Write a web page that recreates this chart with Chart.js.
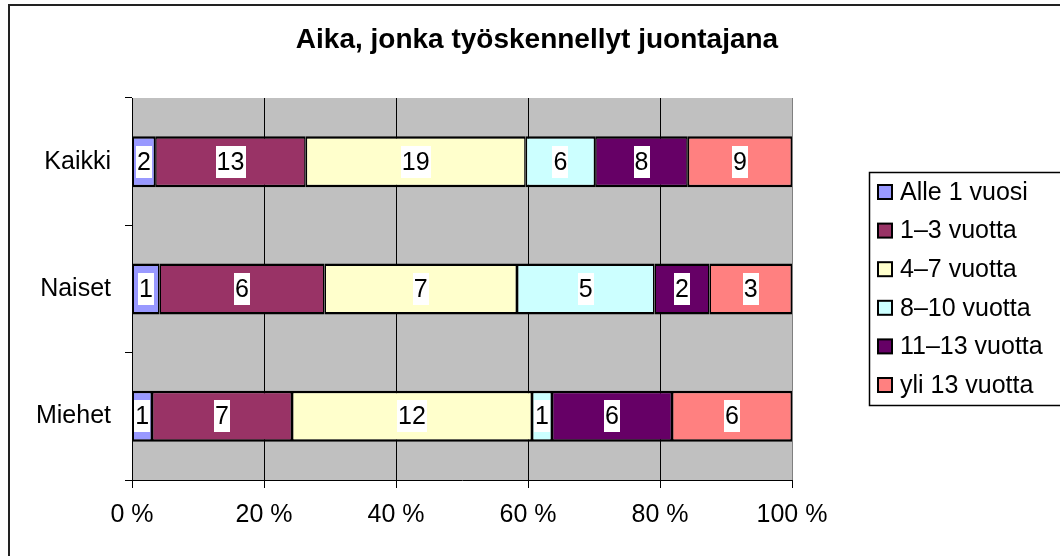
<!DOCTYPE html>
<html>
<head>
<meta charset="utf-8">
<script src="https://cdn.jsdelivr.net/npm/chart.js@4/dist/chart.umd.min.js"></script>
<style>
  html, body { margin: 0; padding: 0; background: #fff; }
  #wrap { width: 1060px; height: 556px; }
</style>
</head>
<body>
<div id="wrap"><canvas id="mycanvas" width="1060" height="556"></canvas></div>
<script>
// data (counts, shown as 100 % stacked)
var categories = ['Kaikki', 'Naiset', 'Miehet'];
var seriesNames = ['Alle 1 vuosi', '1–3 vuotta', '4–7 vuotta', '8–10 vuotta', '11–13 vuotta', 'yli 13 vuotta'];
var alle1 = [2, 1, 1];
var v1to3 = [13, 6, 7];
var v4to7 = [19, 7, 12];
var v8to10 = [6, 5, 1];
var v11to13 = [8, 2, 6];
var yli13 = [9, 3, 6];
var xTickLabels = ['0 %', '20 %', '40 %', '60 %', '80 %', '100 %'];

var colors = ['#9999FF', '#993366', '#FFFFCC', '#CCFFFF', '#660066', '#FF8080'];
var FONT = '"Liberation Sans", Arial, sans-serif';

var counts = [alle1, v1to3, v4to7, v8to10, v11to13, yli13];
var totals = categories.map(function(c, j) {
    var s = 0;
    for (var i = 0; i < counts.length; i++) s += counts[i][j];
    return s;
});

var datasets = counts.map(function(arr, i) {
    return {
        label: seriesNames[i],
        counts: arr,
        data: arr.map(function(v, j) { return v / totals[j] * 100; }),
        backgroundColor: colors[i],
        borderColor: '#000',
        borderWidth: {top: 2.5, bottom: 2.5, left: 1.5, right: 1.5},
        borderSkipped: false,
        barPercentage: 0.4,
        categoryPercentage: 1
    };
});

var decor = {
    id: 'decor',
    beforeDraw: function(chart) {
        var c = chart.ctx, a = chart.chartArea;
        c.save();
        c.fillStyle = '#fff';
        c.fillRect(0, 0, chart.width, chart.height);
        c.fillStyle = '#C0C0C0';
        c.fillRect(a.left, a.top, a.right - a.left, a.bottom - a.top);
        c.restore();
    },
    afterDatasetsDraw: function(chart) {
        var c = chart.ctx;
        c.save();
        c.font = '25px ' + FONT;
        c.textAlign = 'center';
        c.textBaseline = 'middle';
        chart.data.datasets.forEach(function(ds, i) {
            chart.getDatasetMeta(i).data.forEach(function(bar, j) {
                var p = bar.getProps(['x', 'y', 'base'], true);
                var cx = (p.x + p.base) / 2;
                var txt = String(ds.counts[j]);
                var w = c.measureText(txt).width + 2;
                c.fillStyle = '#fff';
                c.fillRect(Math.round(cx - w / 2), Math.round(p.y - 16), Math.round(w), 32);
                c.fillStyle = '#000';
                c.fillText(txt, cx, p.y + 1);
            });
        });
        c.restore();
    },
    afterDraw: function(chart) {
        var c = chart.ctx;
        c.save();
        // outer chart frame
        c.strokeStyle = '#222';
        c.lineWidth = 2;
        c.strokeRect(9, 5, 1100, 600);
        // title
        c.fillStyle = '#000';
        c.font = 'bold 28px ' + FONT;
        c.textAlign = 'center';
        c.textBaseline = 'middle';
        c.fillText('Aika, jonka työskennellyt juontajana', 537, 40);
        // legend
        c.lineWidth = 1.5;
        c.strokeStyle = '#000';
        c.strokeRect(869.5, 172.5, 300, 233);
        c.font = '25px ' + FONT;
        c.textAlign = 'left';
        chart.data.datasets.forEach(function(ds, i) {
            var y = 192 + i * 38.6;
            c.fillStyle = ds.backgroundColor;
            c.fillRect(878, y - 7, 14, 14);
            c.lineWidth = 2;
            c.strokeStyle = '#000';
            c.strokeRect(878, y - 7, 14, 14);
            c.fillStyle = '#000';
            c.fillText(ds.label, 900, y + 1);
        });
        c.restore();
    }
};

var ctx = document.getElementById('mycanvas');
var barGraph = new Chart(ctx, {
    type: 'bar',
    data: { labels: categories, datasets: datasets },
    options: {
        indexAxis: 'y',
        responsive: false,
        animation: false,
        layout: { padding: { top: 98, right: 268, bottom: 0, left: 0 } },
        plugins: {
            legend: { display: false },
            tooltip: { enabled: false }
        },
        scales: {
            x: {
                type: 'linear',
                stacked: true,
                min: 0,
                max: 100,
                afterFit: function(s) { s.height = 76; },
                ticks: {
                    stepSize: 20,
                    padding: 12,
                    color: '#000',
                    font: { family: FONT, size: 25 },
                    callback: function(v) { return xTickLabels[v / 20]; }
                },
                grid: {
                    color: function(c) { return c.tick && c.tick.value === 100 ? '#808080' : '#000'; },
                    lineWidth: 1,
                    tickLength: 8,
                    tickColor: '#000'
                },
                border: { color: '#000', width: 1 }
            },
            y: {
                stacked: true,
                afterFit: function(s) { s.width = 132; },
                ticks: {
                    padding: 14,
                    color: '#000',
                    font: { family: FONT, size: 25 }
                },
                grid: {
                    offset: true,
                    drawOnChartArea: false,
                    tickLength: 7,
                    tickColor: '#000'
                },
                border: { color: '#000', width: 1 }
            }
        }
    },
    plugins: [decor]
});
</script>
</body>
</html>
